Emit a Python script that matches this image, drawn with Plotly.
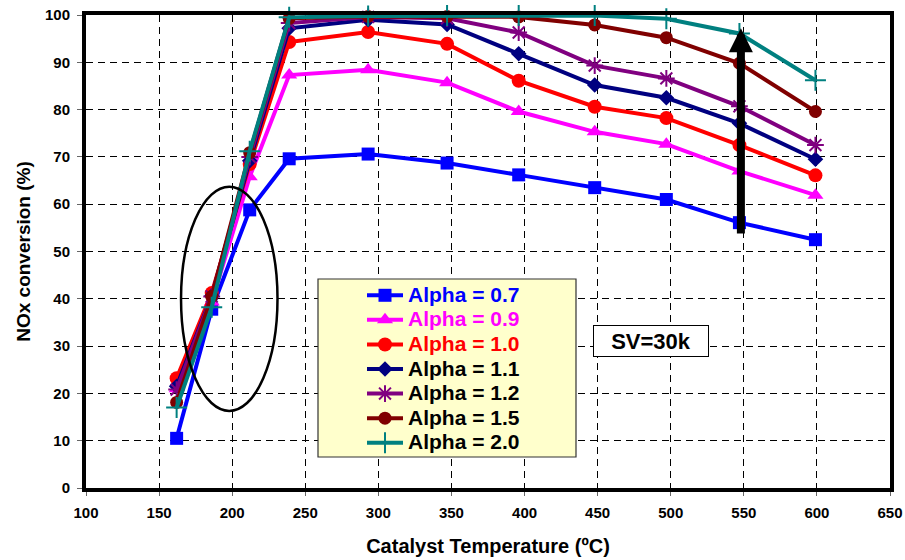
import plotly.graph_objects as go

temps = [162, 186, 212, 239, 293, 347, 396, 448, 497, 547, 599]

alpha_07 = [10.5, 37.8, 58.8, 69.6, 70.6, 68.7, 66.2, 63.5, 61.0, 56.1, 52.5]
alpha_09 = [21.0, 39.3, 65.8, 87.3, 88.4, 85.7, 79.6, 75.3, 72.7, 67.0, 61.9]
alpha_10 = [23.2, 41.2, 68.5, 94.3, 96.4, 93.9, 86.1, 80.6, 78.2, 72.5, 66.1]
alpha_11 = [21.5, 40.6, 69.2, 97.2, 99.0, 98.0, 91.8, 85.2, 82.5, 77.1, 69.5]
alpha_12 = [20.8, 40.5, 70.0, 98.3, 99.6, 99.3, 96.3, 89.3, 86.6, 80.7, 72.5]
alpha_15 = [18.1, 40.5, 70.9, 99.3, 99.7, 99.7, 99.6, 97.9, 95.2, 89.8, 79.6]
alpha_20 = [17.0, 38.2, 71.2, 99.5, 99.8, 99.9, 99.9, 99.9, 99.2, 96.1, 86.2]

series_names = ["Alpha = 0.7", "Alpha = 0.9", "Alpha = 1.0", "Alpha = 1.1",
                "Alpha = 1.2", "Alpha = 1.5", "Alpha = 2.0"]
series_values = [alpha_07, alpha_09, alpha_10, alpha_11, alpha_12, alpha_15, alpha_20]
colors = ["#0000FF", "#FF00FF", "#FF0000", "#000080", "#800080", "#800000", "#008080"]
label_colors = ["#0000FF", "#FF00FF", "#FF0000", "#000000", "#000000", "#000000", "#000000"]
symbols = ["square", "triangle-up", "circle", "diamond", "asterisk-open", "circle", "cross-thin-open"]
sizes = [13, 14, 14, 12, 14, 13, 15]

x_ticks = list(range(100, 651, 50))
y_ticks = list(range(0, 101, 10))

# Annotations (data coordinates)
ellipse = dict(x0=165, x1=231, y0=16.3, y1=63.7)
arrow = dict(x=548, y_from=53.5, y_to=97.2)

FONT = "Arial, Liberation Sans, sans-serif"

fig = go.Figure()
for name, vals, c, lc, sym, sz in zip(series_names, series_values, colors,
                                      label_colors, symbols, sizes):
    open_sym = sym.endswith("open")
    fig.add_trace(go.Scatter(
        x=temps, y=vals, mode="lines+markers",
        name=f'<span style="font-size:21px;color:{lc}">{name}</span>',
        line=dict(color=c, width=4),
        marker=dict(symbol=sym, size=sz, color=c,
                    line=dict(color=c, width=2 if open_sym else 0)),
        cliponaxis=False,
    ))

W, H = 905, 560
ml, mr, mt, mb = 86, 15, 15, 72
pw, ph = W - ml - mr, H - mt - mb

def px_x(p):
    return (p - ml) / pw

def px_y(p):
    return (H - mb - p) / ph

fig.update_layout(
    width=W, height=H,
    margin=dict(l=ml, r=mr, t=mt, b=mb, autoexpand=False),
    paper_bgcolor="white", plot_bgcolor="white",
    font=dict(family=FONT, color="black"),
    showlegend=True,
    legend=dict(
        x=px_x(362), xanchor="left",
        y=px_y(278), yanchor="top",
        bgcolor="rgba(0,0,0,0)", borderwidth=0,
        font=dict(family=FONT, size=16.6, weight="bold", color="black"),
        itemwidth=36, tracegroupgap=0,
    ),
    xaxis=dict(
        range=[100, 650], tickmode="array", tickvals=x_ticks,
        automargin=False,
        showgrid=True, gridcolor="black", gridwidth=1, griddash="7px,5px",
        showline=True, linecolor="black", linewidth=4, mirror=True,
        ticks="outside", ticklen=4, tickcolor="#666", tickwidth=1,
        tickfont=dict(family=FONT, size=15, weight="bold"),
        ticklabelstandoff=4,
        zeroline=False,
        title=dict(text="Catalyst Temperature (ºC)",
                   font=dict(family=FONT, size=20, weight="bold"), standoff=20),
    ),
    yaxis=dict(
        range=[0, 100], tickmode="array", tickvals=y_ticks,
        automargin=False,
        showgrid=True, gridcolor="black", gridwidth=1, griddash="7px,5px",
        showline=True, linecolor="black", linewidth=4, mirror=True,
        ticks="outside", ticklen=5, tickcolor="#666", tickwidth=1,
        tickfont=dict(family=FONT, size=15, weight="bold"),
        ticklabelstandoff=4,
        zeroline=False,
        title=dict(text="NOx conversion (%)",
                   font=dict(family=FONT, size=19, weight="bold"), standoff=10),
    ),
    shapes=[
        dict(type="circle", xref="x", yref="y",
             x0=ellipse["x0"], x1=ellipse["x1"], y0=ellipse["y0"], y1=ellipse["y1"],
             line=dict(color="black", width=2.5), layer="above"),
        dict(type="rect", xref="paper", yref="paper",
             x0=px_x(318), x1=px_x(576), y0=px_y(457), y1=px_y(279),
             fillcolor="#FFFFCC", line=dict(color="#333", width=1.2), layer="above"),
    ],
    annotations=[
        dict(x=arrow["x"], y=arrow["y_to"], ax=arrow["x"], ay=arrow["y_from"],
             xref="x", yref="y", axref="x", ayref="y",
             text="", showarrow=True, arrowhead=2, arrowsize=0.6,
             arrowwidth=8, arrowcolor="black", standoff=0, startstandoff=0),
        dict(x=px_x(651), y=px_y(341), xref="paper", yref="paper",
             xanchor="center", yanchor="middle",
             text="<b>SV=30k</b>", showarrow=False,
             font=dict(family=FONT, size=22, color="black"),
             bgcolor="white", bordercolor="black", borderwidth=1,
             borderpad=1, width=112, height=28),
    ],
)

fig.write_html("out.html")
